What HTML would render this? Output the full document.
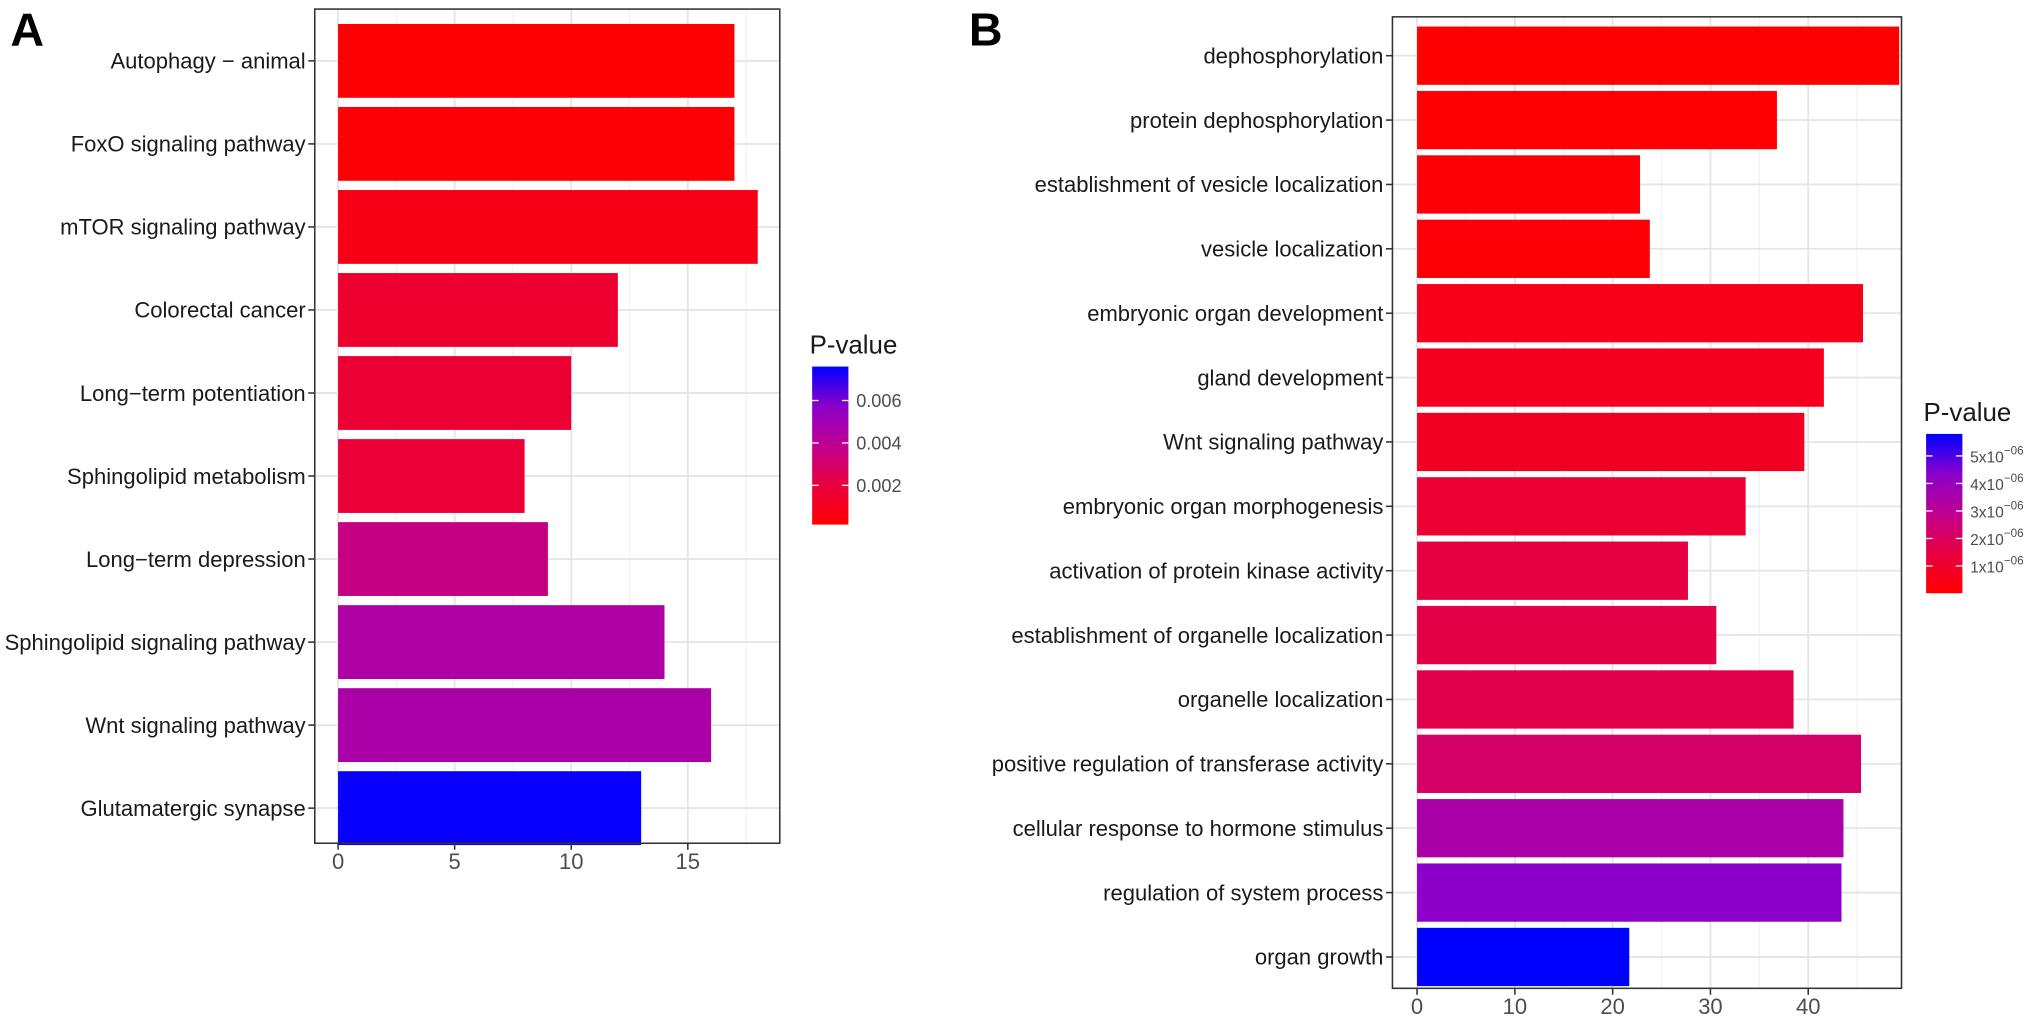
<!DOCTYPE html>
<html><head><meta charset="utf-8"><style>
html,body{margin:0;padding:0;background:#fff;}
svg{display:block;font-family:"Liberation Sans",Arial,sans-serif;}
</style></head><body>
<svg id="chart" width="2031" height="1028">
<defs>
<linearGradient id="gradA" x1="0" y1="1" x2="0" y2="0">
<stop offset="0" stop-color="#FF0000"/><stop offset="0.25" stop-color="#E8003F"/><stop offset="0.5" stop-color="#C0008F"/><stop offset="0.75" stop-color="#8A00CC"/><stop offset="1" stop-color="#0000FF"/>
</linearGradient>
</defs>
<g transform="scale(1.2953)">
<text x="8" y="35" font-size="36" font-weight="bold">A</text>
<text x="748" y="35" font-size="36" font-weight="bold">B</text>
<g id="pa"></g>
<g id="pb"></g>
</g>
</svg>
<script>
const catsA=["Autophagy − animal","FoxO signaling pathway","mTOR signaling pathway","Colorectal cancer","Long−term potentiation","Sphingolipid metabolism","Long−term depression","Sphingolipid signaling pathway","Wnt signaling pathway","Glutamatergic synapse"];
const countsA=[17,17,18,12,10,8,9,14,16,13];
const pvalsA=[0.0002,0.0003,0.0008,0.0015,0.0017,0.0018,0.0036,0.0045,0.0046,0.0075];
const ticksA=[0,5,10,15];
const legendTicksA=[0.002,0.004,0.006];
const legendLabelsA=["0.002","0.004","0.006"];

const catsB=["dephosphorylation","protein dephosphorylation","establishment of vesicle localization","vesicle localization","embryonic organ development","gland development","Wnt signaling pathway","embryonic organ morphogenesis","activation of protein kinase activity","establishment of organelle localization","organelle localization","positive regulation of transferase activity","cellular response to hormone stimulus","regulation of system process","organ growth"];
const countsB=[49.3,36.8,22.8,23.8,45.6,41.6,39.6,33.6,27.7,30.6,38.5,45.4,43.6,43.4,21.7];
const pvalsB=[1e-8,5e-8,2e-7,2e-7,6e-7,7e-7,8e-7,1.2e-6,1.5e-6,1.6e-6,1.7e-6,2.2e-6,3.5e-6,4.3e-6,5.8e-6];
const ticksB=[0,10,20,30,40];
const legendTicksB=[1e-6,2e-6,3e-6,4e-6,5e-6];
const legendLabelsB=["1x10","2x10","3x10","4x10","5x10"];

const NS="http://www.w3.org/2000/svg";
function mk(parent,tag,attrs,text){const e=document.createElementNS(NS,tag);for(const k in attrs)e.setAttribute(k,attrs[k]);if(text!==undefined)e.textContent=text;parent.appendChild(e);return e;}
const stops=[[255,0,0],[232,0,63],[192,0,143],[138,0,204],[0,0,255]];
function col(t){t=Math.max(0,Math.min(1,t));const s=t*4,i=Math.min(3,Math.floor(s)),f=s-i;const a=stops[i],b=stops[i+1];return `rgb(${a.map((v,k)=>Math.round(v+(b[k]-v)*f)).join(',')})`;}

function panel(g,o){
  const x=v=>o.x0+v*o.sx;
  const yc=i=>o.y0+i*o.step;
  mk(g,'rect',{x:o.left,y:o.top,width:o.right-o.left,height:o.bottom-o.top,fill:'#fff'});
  for(let i=0;i<o.ticks.length;i++){
    const t=o.ticks[i];
    const l=mk(g,'line',{x1:x(t),x2:x(t),y1:o.top,y2:o.bottom,stroke:'#e6e6e6','stroke-width':1.5});
    
    const h=t+o.tstep/2;
    if(x(h)<o.right){const m=mk(g,'line',{x1:x(h),x2:x(h),y1:o.top,y2:o.bottom,stroke:'#f2f2f2','stroke-width':1});
    }
  }
  for(let i=0;i<o.cats.length;i++){
    mk(g,'line',{x1:o.left,x2:o.right,y1:yc(i),y2:yc(i),stroke:'#e6e6e6','stroke-width':1.5});
  }
  for(let i=0;i<o.cats.length;i++){
    const t=(o.pvals[i]-o.pmin)/(o.pmax-o.pmin);
    const r=mk(g,'rect',{x:x(0),y:yc(i)-o.bh/2,width:x(o.counts[i])-x(0),height:o.bh,fill:col(t)});
    
    mk(g,'line',{x1:o.left-5,x2:o.left,y1:yc(i),y2:yc(i),stroke:'#333','stroke-width':1.2});
    const lb=mk(g,'text',{x:o.left-7,y:yc(i)+6,'font-size':o.fs,'text-anchor':'end',fill:'#1a1a1a'},o.cats[i]);
    
  }
  mk(g,'rect',{x:o.left,y:o.top,width:o.right-o.left,height:o.bottom-o.top,fill:'none',stroke:'#333','stroke-width':1.2});
  for(const t of o.ticks){
    mk(g,'line',{x1:x(t),x2:x(t),y1:o.bottom,y2:o.bottom+5,stroke:'#333','stroke-width':1.2});
    const tl=mk(g,'text',{x:x(t),y:o.bottom+20,'font-size':17,'text-anchor':'middle',fill:'#4d4d4d'},String(t));
    
  }
  const L=o.leg;
  const lt=mk(g,'text',{x:L.x-2,y:L.top-10,'font-size':20,fill:'#1a1a1a'},'P-value');
  
  const cb=mk(g,'rect',{x:L.x,y:L.top,width:28,height:L.bottom-L.top,fill:'url(#gradA)'});
  
  for(let i=0;i<o.lticks.length;i++){
    const yy=L.bottom-(o.lticks[i]-o.pmin)/(o.pmax-o.pmin)*(L.bottom-L.top);
    mk(g,'line',{x1:L.x,x2:L.x+5,y1:yy,y2:yy,stroke:'#fff','stroke-width':1});
    mk(g,'line',{x1:L.x+23,x2:L.x+28,y1:yy,y2:yy,stroke:'#fff','stroke-width':1});
    const tx=mk(g,'text',{x:L.x+34,y:yy+5,'font-size':o.lfs,fill:'#4d4d4d'},o.llabels[i]);
    
    if(o.sup){mk(tx,'tspan',{dy:-6,'font-size':9},'−06');}
  }
}
panel(document.getElementById('pa'),{cats:catsA,counts:countsA,pvals:pvalsA,ticks:ticksA,tstep:5,
  left:243,right:602,top:7,bottom:651,x0:261,sx:18,y0:47,step:64.1,bh:57,fs:17,
  pmin:0.00015,pmax:0.0076,lticks:legendTicksA,llabels:legendLabelsA,lfs:14,sup:false,
  leg:{x:627,top:283,bottom:405}});
panel(document.getElementById('pb'),{cats:catsB,counts:countsB,pvals:pvalsB,ticks:ticksB,tstep:10,
  left:1075,right:1468,top:13,bottom:763,x0:1094,sx:7.55,y0:43,step:49.7,bh:45,fs:17,
  pmin:1e-8,pmax:5.8e-6,lticks:legendTicksB,llabels:legendLabelsB,lfs:12,sup:true,
  leg:{x:1487,top:335,bottom:458}});
</script>
</body></html>
